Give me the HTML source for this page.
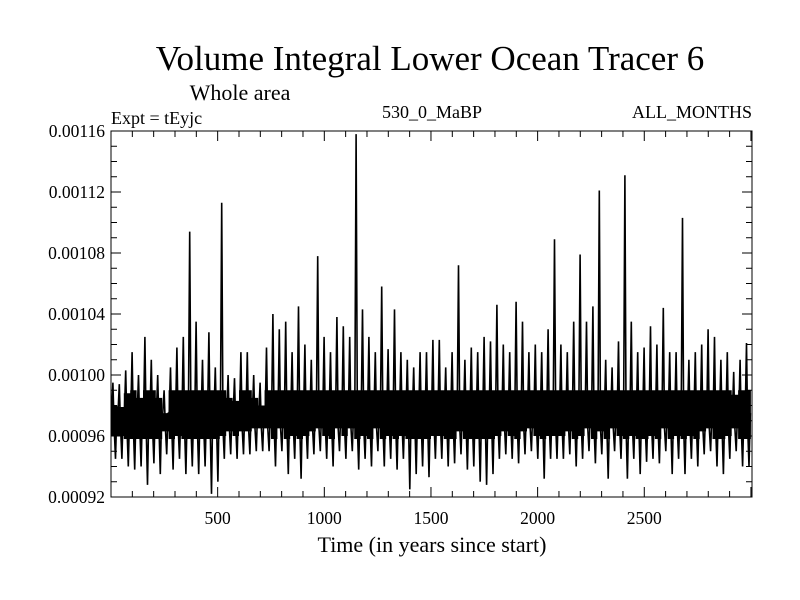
<!DOCTYPE html>
<html><head><meta charset="utf-8"><style>
html,body{margin:0;padding:0;background:#fff;}
svg{display:block;font-family:"Liberation Serif",serif;}
</style></head><body>
<svg id="chart" width="800" height="600" viewBox="0 0 800 600">
<text x="430" y="70" font-size="35" text-anchor="middle">Volume Integral Lower Ocean Tracer 6</text>
<text x="240" y="100" font-size="22" text-anchor="middle">Whole area</text>
<text x="111" y="124" font-size="18">Expt = tEyjc</text>
<text x="432" y="118" font-size="18" text-anchor="middle">530_0_MaBP</text>
<text x="752" y="118" font-size="18" text-anchor="end">ALL_MONTHS</text>
<text x="432" y="552" font-size="22" text-anchor="middle">Time (in years since start)</text>
<g id="series"></g>
<g id="axes"></g>
<rect x="111" y="131" width="641" height="366" fill="none" stroke="#000" stroke-width="1"/>
</svg>
<script>
const binYears=30;
const highs=[99.5,99.4,100.3,101.5,100,102.5,101,100,99,100.5,
101.8,102.5,109.4,103.5,101,102.8,100.5,111.3,100,99.8,
101.5,101.5,100,99.5,101.8,104,103,103.5,101.5,104.5,
102,101,107.8,102.5,101.5,103.8,103.2,102.5,115.8,104.3,
102.5,101.5,105.8,101.7,104.3,101.5,101,100.5,101.5,101.5,
102.3,102.3,100.5,101.5,107.2,101,101.8,101.5,102.5,102.2,
104.6,102,101.5,104.8,103.5,101.5,102,101.5,103,108.9,
102,101.5,103.5,107.9,103.5,104.5,112.1,101,100.5,102.2,
113.1,103.5,101.5,101.8,103.2,102,104.4,101.5,101.5,110.3,
101,101.5,102,103,102.5,101,101.5,100.2,101,102.1];
const lows=[94.5,94.5,94,93.8,94,92.8,94.2,93.5,94.8,93.8,
94.5,93.5,94,93.5,94,92.2,93,94.5,94.8,94.5,
94.8,94.8,95,95,95,94,95,93.5,94.5,93.2,
94.5,94.8,95,94.5,94,95,94.5,95,93.8,94.5,
94,95,94,94.5,93.8,94.5,92.5,93.5,94,93.3,
94.5,94.5,94,94.2,94.8,93.8,94,93,92.8,93.5,
94.5,94.8,94.5,94.2,94.8,95,94.5,93.2,94.5,94.5,
94.5,94.8,94,94.5,95,94.2,94.8,93.2,95,94.5,
93.2,94.5,93.5,94.3,94.5,94.2,95,93.5,94.5,93.5,
94.5,94,94.8,95,94,93.5,94.5,95,94,94];
const yTicks=[0.00092,0.00096,0.00100,0.00104,0.00108,0.00112,0.00116];
const yTickLabels=["0.00092","0.00096","0.00100","0.00104","0.00108","0.00112","0.00116"];
const xTicks=[500,1000,1500,2000,2500];
const xTickLabels=["500","1000","1500","2000","2500"];

const X0=111,X1=752,Y0=497,Y1=131,XMIN=0,XMAX=3005,YMIN=0.00092,YMAX=0.00116;
const sx=v=>X0+(v-XMIN)/(XMAX-XMIN)*(X1-X0);
const sy=v=>Y0-(v-YMIN)/(YMAX-YMIN)*(Y0-Y1);
const NS="http://www.w3.org/2000/svg";
const ser=document.getElementById('series'), ax=document.getElementById('axes');
function mk(t,a,p){const e=document.createElementNS(NS,t);for(const k in a)e.setAttribute(k,a[k]);p.appendChild(e);return e;}

// core band (follows each bin's range, clipped)
const bandTop=[], bandBot=[];
for(let i=0;i<highs.length;i++){
  const xa=sx(i*binYears), xb=sx((i+1)*binYears);
  const h=Math.min(highs[i]-1.5,99)*1e-5, l=Math.max(lows[i]+1.5,95.8)*1e-5;
  bandTop.push(xa.toFixed(1)+','+sy(h).toFixed(1), xb.toFixed(1)+','+sy(h).toFixed(1));
  bandBot.unshift(xb.toFixed(1)+','+sy(l).toFixed(1), xa.toFixed(1)+','+sy(l).toFixed(1));
}
const band=mk('polygon',{points:bandTop.concat(bandBot).join(' '),fill:'#000'},ser);



// near-vertical spikes
const pts=[];
for(let i=0;i<highs.length;i++){
  const x=i*binYears;
  pts.push(sx(x+binYears*0.1).toFixed(1)+','+sy(97.5e-5).toFixed(1));
  pts.push(sx(x+binYears*0.3).toFixed(1)+','+sy(highs[i]*1e-5).toFixed(1));
  pts.push(sx(x+binYears*0.5).toFixed(1)+','+sy(96.5e-5).toFixed(1));
  pts.push(sx(x+binYears*0.7).toFixed(1)+','+sy(lows[i]*1e-5).toFixed(1));
  pts.push(sx(x+binYears*0.9).toFixed(1)+','+sy(97.5e-5).toFixed(1));
}
const line=mk('polyline',{points:pts.join(' '),fill:'none',stroke:'#000','stroke-width':1.6,'stroke-linejoin':'miter','stroke-miterlimit':1},ser);



// y ticks
for(let v=92;v<=116;v++){
  const y=sy(v*1e-5), len=(v%4===0)?10:6;
  const a=mk('line',{x1:X0,x2:X0+len,y1:y,y2:y,stroke:'#000'},ax);
  
  
  const b=mk('line',{x1:X1,x2:X1-len,y1:y,y2:y,stroke:'#000'},ax);
  
  
}
yTicks.forEach((v,i)=>{
  const t=mk('text',{x:105,y:sy(v)+6,'font-size':17.5,'text-anchor':'end'},ax);
  t.textContent=yTickLabels[i];
  
  
});
// x ticks
for(let v=100;v<=3000;v+=100){
  const x=sx(v), len=(v%500===0)?10:6;
  const a=mk('line',{x1:x,x2:x,y1:Y0,y2:Y0-len,stroke:'#000'},ax);
  
  
  const b=mk('line',{x1:x,x2:x,y1:Y1,y2:Y1+len,stroke:'#000'},ax);
  
  
}
xTicks.forEach((v,i)=>{
  const t=mk('text',{x:sx(v),y:524,'font-size':17.5,'text-anchor':'middle'},ax);
  t.textContent=xTickLabels[i];
  
  
});
</script>
</body></html>
